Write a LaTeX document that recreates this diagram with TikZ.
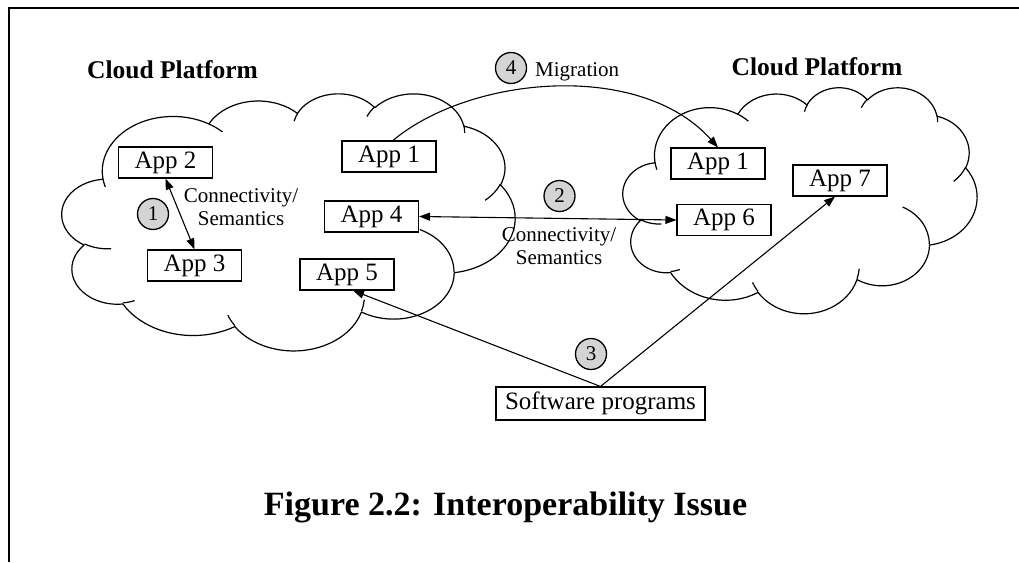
\documentclass[tikz,border=0pt]{standalone}
\usepackage{fontspec}
\setmainfont{Liberation Serif}
\usetikzlibrary{arrows.meta}
\tikzset{
  cloudline/.style={line width=1.2pt, line join=round},
  appbox/.style={draw, line width=1.1pt, minimum width=94pt, minimum height=31pt, inner sep=0pt, font=\fontsize{25}{30}\selectfont},
  numcirc/.style={circle, draw, line width=1.3pt, fill=black!17, minimum size=31pt, inner sep=0pt, font=\fontsize{21}{22}\selectfont},
  smalllabel/.style={align=center, font=\fontsize{21}{23}\selectfont, inner sep=0pt},
  titlelabel/.style={font=\fontsize{25.5}{30}\selectfont\bfseries, inner sep=0pt},
  conn/.style={line width=1.1pt},
  tipone/.style={-{Triangle[length=11pt,width=8pt]}},
  tiptwo/.style={{Triangle[length=11pt,width=8pt]}-{Triangle[length=11pt,width=8pt]}},
}
\newcommand\mycloudshape{%
  \draw[cloudline] (39pt,143.7pt)
    arc[start angle=-187.746,end angle=-59.634,x radius=67.53pt,y radius=91.90pt]
    arc[start angle=-152.024,end angle=-45.45,x radius=53.33pt,y radius=72.67pt]
    arc[start angle=-153.488,end angle=-37.33,x radius=43.65pt,y radius=59.45pt]
    arc[start angle=-139.714,end angle=-10.211,x radius=48.57pt,y radius=65.95pt]
    arc[start angle=-74.768,end angle=23.209,x radius=53.33pt,y radius=72.73pt]
    arc[start angle=-37.53,end angle=81.862,x radius=67.75pt,y radius=92.20pt]
    arc[start angle=0.4596,end angle=121.974,x radius=57.85pt,y radius=78.67pt]
    arc[start angle=16.845,end angle=146.235,x radius=67.52pt,y radius=92.15pt]
    arc[start angle=58.993,end angle=150.185,x radius=77.20pt,y radius=105.43pt]
    arc[start angle=-276.694,end angle=-136.893,x radius=43.60pt,y radius=59.18pt]
    arc[start angle=-239.64,end angle=-95.888,x radius=43.45pt,y radius=59.45pt]
    -- cycle;
  \draw[cloudline]
    (46.93pt,261.77pt) arc[start angle=85.547,end angle=120.36,x radius=43.45pt,y radius=59.45pt]
    (69.28pt,348.99pt) arc[start angle=68.235,end angle=83.306,x radius=43.60pt,y radius=59.18pt]
    (164.78pt,390.90pt) arc[start angle=146.235,end angle=158.474,x radius=67.52pt,y radius=92.15pt]
    (288.27pt,347.51pt) arc[start angle=4.738,end angle=16.845,x radius=67.52pt,y radius=92.15pt]
    (341.29pt,229.54pt) arc[start angle=-64.028,end angle=0.4596,x radius=57.85pt,y radius=78.67pt]
    (417.98pt,153.54pt) arc[start angle=23.209,end angle=49.637,x radius=53.33pt,y radius=72.73pt]
    (383.24pt,54.26pt) arc[start angle=-10.211,end angle=0.821,x radius=48.57pt,y radius=65.95pt]
    (290.78pt,39.52pt) arc[start angle=-156.278,end angle=-139.714,x radius=48.57pt,y radius=65.95pt]
    (221.41pt,47.20pt) arc[start angle=-167.735,end angle=-153.488,x radius=43.65pt,y radius=59.45pt]
    (140.00pt,51.92pt) arc[start angle=-59.634,end angle=-45.73,x radius=67.53pt,y radius=91.90pt]
    (41.27pt,157.89pt) arc[start angle=163.193,end angle=172.254,x radius=67.53pt,y radius=91.90pt];
}
\begin{document}
\begin{tikzpicture}[x=1pt,y=-1pt]
  \useasboundingbox (0,0) rectangle (1019,562);
  % frame
  \draw[line width=1.8pt] (1019,8) -- (9,8) -- (9,562);
  % clouds
  \begin{scope}[shift={(62,93)}, xscale=1.0486, yscale=-0.5949]
    \mycloudshape
  \end{scope}
  \begin{scope}[shift={(623,87)}, xscale=0.8194, yscale=-0.5231]
    \mycloudshape
  \end{scope}
  % titles
  \node[titlelabel, anchor=base] (titleL) at (172.5,78) {Cloud Platform};
  \node[titlelabel, anchor=base] (titleR) at (817,75) {Cloud Platform};
  % app boxes
  \node[appbox] (app2) at (165.5,162.5) {App 2};
  \node[appbox] (app3) at (194.5,265.5) {App 3};
  \node[appbox] (app1L) at (389,156.5) {App 1};
  \node[appbox] (app4) at (371.5,216.5) {App 4};
  \node[appbox] (app5) at (347,274.5) {App 5};
  \node[appbox] (app1R) at (718,163.5) {App 1};
  \node[appbox] (app6) at (724,220) {App 6};
  \node[appbox] (app7) at (840,180.5) {App 7};
  \node[appbox, minimum width=209pt, minimum height=33pt] (soft) at (600.5,403.5) {Software programs};
  % numbered circles
  \node[numcirc] (c1) at (153,214) {1};
  \node[numcirc] (c2) at (559.5,196) {2};
  \node[numcirc] (c3) at (591,354) {3};
  \node[numcirc] (c4) at (511,68) {4};
  % labels
  \node[smalllabel] (lab1) at (241,207.3) {Connectivity/\\Semantics};
  \node[smalllabel] (lab2) at (559,246) {Connectivity/\\Semantics};
  \node[smalllabel, anchor=base west] (labmig) at (535,76.7) {Migration};
  % connectors
  \draw[conn, tiptwo] (app2.south) -- (app3.north);
  \draw[conn, tiptwo] (app4.east) -- (app6.west);
  \draw[conn, tipone] (soft.north) -- ([xshift=6pt]app5.south);
  \draw[conn, tipone] (soft.north) -- ([xshift=-5pt]app7.south);
  \draw[conn, tipone] ([xshift=4pt]app1L.north) .. controls (470,76) and (640,60) .. (app1R.north);
  % caption
  \node[font=\fontsize{34}{40}\selectfont\bfseries, anchor=base, inner sep=0pt] (caption) at (505.5,515) {Figure 2.2: Interoperability Issue};
\end{tikzpicture}
\end{document}
